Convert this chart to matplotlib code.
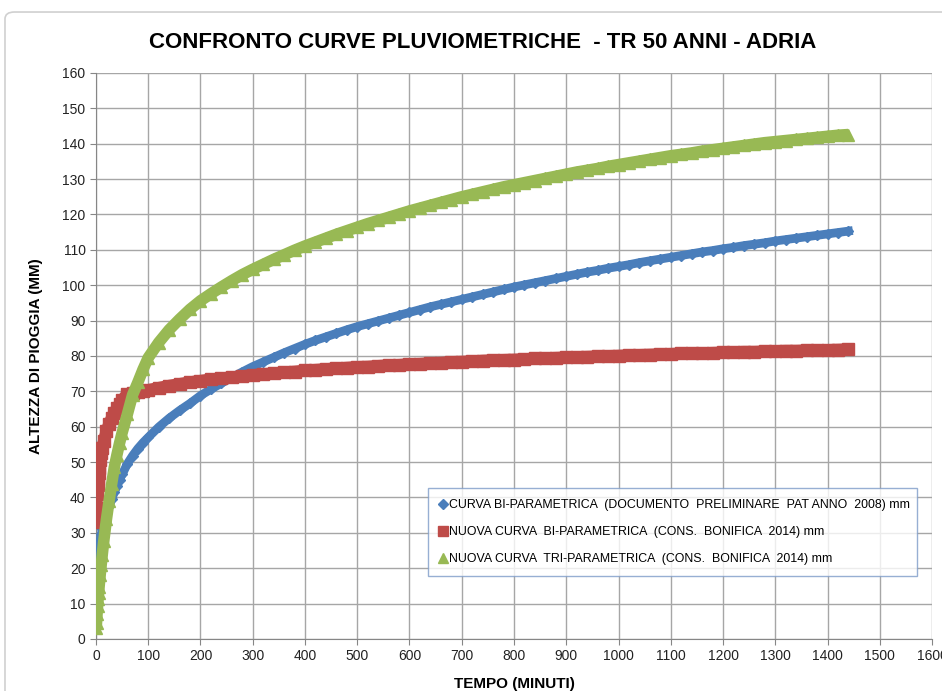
import matplotlib
matplotlib.use("Agg")
import matplotlib.pyplot as plt
from matplotlib.patches import FancyBboxPatch
from matplotlib.lines import Line2D

plt.rcParams['font.family'] = ['Liberation Sans', 'DejaVu Sans']

# tempo (minuti)
tempo_inizio = [0.5, 1, 2, 3, 4, 5, 6, 8, 10, 12, 15, 20, 25, 30, 35, 40, 45, 50, 60, 70, 80, 90]
tempo = tempo_inizio + list(range(100, 1441, 20))

# altezza di pioggia (mm)
curva_bi_2008 = [15.5, 17.2, 20.2, 22.2, 23.8, 25.0, 26.1, 28.0, 29.6, 31.0, 32.8, 35.4, 37.5,
                 39.5, 41.5, 43.3, 45.0, 46.5, 49.5, 51.8, 53.8, 55.5,
                 57.0, 59.9, 62.4, 64.6, 66.6, 68.8, 70.6, 72.3, 73.9, 75.5, 77.0, 78.3, 79.6,
                 80.9, 82.1, 83.3, 84.4, 85.4, 86.4, 87.4, 88.3, 89.1, 89.9, 90.7, 91.5, 92.3,
                 93.1, 93.9, 94.6, 95.3, 96.0, 96.7, 97.4, 98.1, 98.8, 99.5, 100.1, 100.7,
                 101.3, 101.9, 102.5, 103.1, 103.7, 104.2, 104.8, 105.3, 105.8, 106.4, 106.9,
                 107.4, 107.9, 108.4, 108.9, 109.4, 109.8, 110.3, 110.7, 111.2, 111.6, 112.0,
                 112.5, 112.9, 113.3, 113.7, 114.1, 114.5, 114.9, 115.3]

curva_bi_2014 = [33.0, 37.0, 41.0, 43.4, 45.3, 47.0, 48.3, 50.5, 52.5, 54.0, 56.0, 58.8, 60.8,
                 62.5, 64.0, 65.3, 66.5, 67.6, 69.3, 69.6, 69.9, 70.1,
                 70.4, 71.0, 71.6, 72.1, 72.6, 73.0, 73.4, 73.7, 74.0, 74.3, 74.6, 74.9, 75.1,
                 75.4, 75.6, 75.9, 76.1, 76.3, 76.5, 76.7, 76.9, 77.0, 77.2, 77.4, 77.5, 77.7,
                 77.8, 78.0, 78.1, 78.3, 78.4, 78.5, 78.7, 78.8, 78.9, 79.0, 79.1, 79.3, 79.4,
                 79.5, 79.6, 79.7, 79.8, 79.9, 80.0, 80.1, 80.2, 80.3, 80.4, 80.5, 80.6, 80.7,
                 80.8, 80.8, 80.9, 81.0, 81.1, 81.2, 81.2, 81.3, 81.4, 81.5, 81.5, 81.6, 81.7,
                 81.7, 81.8, 81.9]

curva_tri_2014 = [3.0, 4.5, 7.0, 9.2, 11.2, 13.0, 14.8, 18.0, 21.0, 23.8, 27.8, 33.8, 39.0,
                  43.8, 48.5, 52.0, 55.3, 58.3, 63.5, 69.0, 72.5, 76.2,
                  79.5, 83.8, 87.4, 90.4, 93.2, 95.6, 97.6, 99.5, 101.3, 103.0, 104.5, 105.9,
                  107.3, 108.6, 109.9, 111.1, 112.2, 113.3, 114.4, 115.4, 116.4, 117.4, 118.3,
                  119.2, 120.1, 121.0, 121.8, 122.6, 123.4, 124.2, 125.0, 125.7, 126.4, 127.1,
                  127.8, 128.4, 129.0, 129.6, 130.2, 130.8, 131.4, 132.0, 132.5, 133.0, 133.6,
                  134.1, 134.6, 135.1, 135.6, 136.1, 136.6, 137.0, 137.4, 137.9, 138.3, 138.7,
                  139.1, 139.5, 139.9, 140.3, 140.6, 140.9, 141.2, 141.5, 141.8, 142.1, 142.4,
                  142.6]

etichette = ["CURVA BI-PARAMETRICA  (DOCUMENTO  PRELIMINARE  PAT ANNO  2008) mm",
             "NUOVA CURVA  BI-PARAMETRICA  (CONS.  BONIFICA  2014) mm",
             "NUOVA CURVA  TRI-PARAMETRICA  (CONS.  BONIFICA  2014) mm"]
colori = ["#4a7ebb", "#be4b48", "#98b954"]

fig = plt.figure(figsize=(9.42, 6.91), dpi=100)
fig.patches.append(FancyBboxPatch((0.0053, -0.2), 1.2, 1.1826, boxstyle="round,pad=0,rounding_size=0.01",
                                  transform=fig.transFigure, fc="none", ec="#d0d0d0", lw=1.2,
                                  zorder=-5))
ax = fig.add_axes([0.1019, 0.0753, 0.8875, 0.8191])

# bande spesse come nel grafico originale (marker molto fitti)
ax.plot(tempo, curva_bi_2008, color=colori[0], lw=6.3, zorder=3)
ax.plot(tempo, curva_bi_2008, ls="none", marker="D", ms=5.5, color=colori[0], zorder=3)
ax.plot(tempo, curva_bi_2014, color=colori[1], lw=8.5, zorder=3, solid_capstyle="butt")
ax.plot(tempo, curva_bi_2014, ls="none", marker="s", ms=8.5, color=colori[1], zorder=3)
ax.plot(tempo, curva_tri_2014, color=colori[2], lw=8.3, zorder=3, solid_capstyle="butt")
ax.plot(tempo, curva_tri_2014, ls="none", marker="^", ms=9, color=colori[2], zorder=3)

ax.set_xlim(0, 1600)
ax.set_ylim(0, 160)
ax.set_xticks(range(0, 1601, 100))
ax.set_yticks(range(0, 161, 10))
ax.grid(True, color="#a6a6a6", lw=1)
ax.set_axisbelow(True)
for s in ["top", "right"]:
    ax.spines[s].set_visible(False)
for s in ["left", "bottom"]:
    ax.spines[s].set_color("#868686")
ax.tick_params(axis="both", length=4, color="#868686", labelsize=10, labelcolor="#222222")

fig.text(0.512, 0.939, "CONFRONTO CURVE PLUVIOMETRICHE  - TR 50 ANNI - ADRIA", fontsize=16,
         fontweight="bold", ha="center", va="center")
ax.set_xlabel("TEMPO (MINUTI)", fontsize=11, fontweight="bold", labelpad=10)
ax.set_ylabel("ALTEZZA DI PIOGGIA (MM)", fontsize=11, fontweight="bold", labelpad=14)

maniglie = [Line2D([], [], ls="none", marker="D", ms=5, color=colori[0]),
            Line2D([], [], ls="none", marker="s", ms=7, color=colori[1]),
            Line2D([], [], ls="none", marker="^", ms=7, color=colori[2])]
leg = ax.legend(maniglie, etichette, loc="lower left", bbox_to_anchor=(0.39, 0.10, 0.6, 0.167),
                mode="expand", fontsize=8.9, frameon=True, fancybox=False, handlelength=0.6,
                handletextpad=0.2, labelspacing=1.2, borderpad=0.9)
leg.get_frame().set_edgecolor("#7d9bc8")
leg.get_frame().set_linewidth(1)

fig.savefig("out.png", dpi=100)
